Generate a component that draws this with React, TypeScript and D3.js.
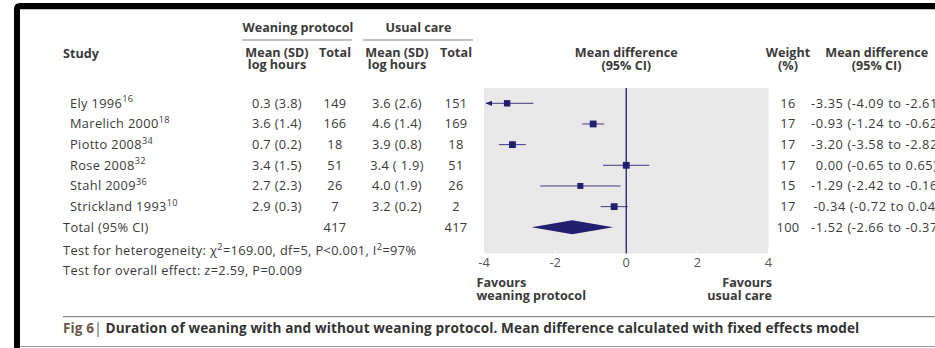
import React from "react";
import * as d3 from "d3";

const studies = ["Ely 1996", "Marelich 2000", "Piotto 2008", "Rose 2008", "Stahl 2009", "Strickland 1993"];
const refs = ["16", "18", "34", "32", "36", "10"];
const wpMeanSD = ["0.3 (3.8)", "3.6 (1.4)", "0.7 (0.2)", "3.4 (1.5)", "2.7 (2.3)", "2.9 (0.3)"];
const wpTotal = [149, 166, 18, 51, 26, 7];
const ucMeanSD = ["3.6 (2.6)", "4.6 (1.4)", "3.9 (0.8)", "3.4 ( 1.9)", "4.0 (1.9)", "3.2 (0.2)"];
const ucTotal = [151, 169, 18, 51, 26, 2];
const weights = [16, 17, 17, 17, 15, 17];
const md = [-3.35, -0.93, -3.2, 0.0, -1.29, -0.34];
const lo = [-4.09, -1.24, -3.58, -0.65, -2.42, -0.72];
const hi = [-2.61, -0.62, -2.82, 0.65, -0.16, 0.04];
const totalLabel = "Total (95% CI)";
const totalWp = 417;
const totalUc = 417;
const totalWeight = 100;
const totalMd = -1.52;
const totalLo = -2.66;
const totalHi = -0.37;
const xTicks = [-4, -2, 0, 2, 4];

const NAVY = "#221f6f";
const TXT = "#3a3a3a";
const FONT = "'Open Sans', sans-serif";

const fmt = (v: number) => v.toFixed(2);

export default function App() {
  const x = d3.scaleLinear().domain([-4, 4]).range([484, 768.5]);
  const rowKeys = [...studies, "Total"];
  const y = d3.scalePoint<string>().domain(rowKeys).range([103.3, 227.3]);
  const sq = d3.scaleLinear().domain([0, 17]).range([0, 6.8]);
  const base = 4.5;
  const fs = 12.8;
  const hfs = 12.6;
  const sup = 9.2;
  const ls = 0.35;

  return (
    <svg width={935} height={348} style={{ position: "absolute", left: 0, top: 0, background: "#fff" }} fontFamily={FONT}>
      {/* frame */}
      <path d="M17 348 V9 Q17 6 20 6 H935" fill="none" stroke="#000" strokeWidth={6} />
      <line x1={20} x2={935} y1={9.6} y2={9.6} stroke="#bbb" strokeWidth={1} />
      <line x1={20} x2={935} y1={346.5} y2={346.5} stroke="#999" strokeWidth={1.2} />

      {/* headers */}
      <g fill={TXT} fontWeight="bold" fontSize={hfs}>
        <text x={63} y={58}>Study</text>
        <text x={298} y={31.5} textAnchor="middle">Weaning protocol</text>
        <text x={418.5} y={31.5} textAnchor="middle">Usual care</text>
        <text x={277} y={56.5} textAnchor="middle">Mean (SD)</text>
        <text x={277} y={69} textAnchor="middle">log hours</text>
        <text x={335} y={56.5} textAnchor="middle">Total</text>
        <text x={397} y={56.5} textAnchor="middle">Mean (SD)</text>
        <text x={397} y={69} textAnchor="middle">log hours</text>
        <text x={456} y={56.5} textAnchor="middle">Total</text>
        <text x={x(0)} y={57} textAnchor="middle">Mean difference</text>
        <text x={x(0)} y={69.5} textAnchor="middle">(95% CI)</text>
        <text x={788} y={57} textAnchor="middle">Weight</text>
        <text x={788} y={69.5} textAnchor="middle">(%)</text>
        <text x={876.7} y={57} textAnchor="middle">Mean difference</text>
        <text x={876.7} y={69.5} textAnchor="middle">(95% CI)</text>
      </g>
      <line x1={242} x2={352} y1={40} y2={40} stroke="#888" strokeWidth={1.2} />
      <line x1={363} x2={473} y1={40} y2={40} stroke="#888" strokeWidth={1.2} />

      {/* plot background */}
      <rect x={x(-4)} y={88} width={x(4) - x(-4)} height={165.5} fill="#e8e8e8" />
      {xTicks.map((t) => (
        <line key={t} x1={x(t)} x2={x(t)} y1={250} y2={253.5} stroke="#fff" strokeWidth={1} />
      ))}
      <line x1={x(0)} x2={x(0)} y1={88} y2={253.5} stroke={NAVY} strokeWidth={1.3} />
      {xTicks.map((t) => (
        <text key={t} x={x(t)} y={266.5} textAnchor="middle" fontSize={fs} fill="#555">{t}</text>
      ))}

      {/* study rows */}
      <g letterSpacing={ls}>
        {studies.map((s, i) => {
          const yc = y(s)!;
          const l = Math.max(lo[i], -4);
          const arrow = lo[i] < -4;
          const size = sq(weights[i]);
          return (
            <g key={s}>
              <text x={70} y={yc + base} fontSize={fs} fill={TXT}>
                {s}
                <tspan dy={-5.5} fontSize={sup}>{refs[i]}</tspan>
              </text>
              <text x={277} y={yc + base} fontSize={fs} fill={TXT} textAnchor="middle">{wpMeanSD[i]}</text>
              <text x={335} y={yc + base} fontSize={fs} fill={TXT} textAnchor="middle">{wpTotal[i]}</text>
              <text x={397} y={yc + base} fontSize={fs} fill={TXT} textAnchor="middle">{ucMeanSD[i]}</text>
              <text x={456} y={yc + base} fontSize={fs} fill={TXT} textAnchor="middle">{ucTotal[i]}</text>
              <line x1={x(l) + (arrow ? 2 : 0)} x2={x(hi[i])} y1={yc} y2={yc} stroke={NAVY} strokeWidth={1} opacity={0.85} />
              {arrow && (
                <path d={`M${x(-4) + 1.5},${yc} L${x(-4) + 8},${yc - 2.6} L${x(-4) + 8},${yc + 2.6} Z`} fill={NAVY} />
              )}
              <rect x={x(md[i]) - size / 2} y={yc - size / 2} width={size} height={size} fill={NAVY} />
              <text x={788} y={yc + base} fontSize={fs} fill={TXT} textAnchor="middle">{weights[i]}</text>
              <text x={876.7} y={yc + base} fontSize={fs} fill={TXT} textAnchor="middle" letterSpacing={0.6}>
                {`${fmt(md[i])} (${fmt(lo[i])} to ${fmt(hi[i])})`}
              </text>
            </g>
          );
        })}
      </g>

      {/* total row */}
      {(() => {
        const yc = y("Total")!;
        return (
          <g letterSpacing={ls}>
            <text x={63} y={yc + base} fontSize={fs} fill={TXT}>{totalLabel}</text>
            <text x={335} y={yc + base} fontSize={fs} fill={TXT} textAnchor="middle">{totalWp}</text>
            <text x={456} y={yc + base} fontSize={fs} fill={TXT} textAnchor="middle">{totalUc}</text>
            <path
              d={`M${x(totalLo)},${yc} L${x(totalMd)},${yc - 7} L${x(totalHi)},${yc} L${x(totalMd)},${yc + 7} Z`}
              fill={NAVY}
            />
            <text x={788} y={yc + base} fontSize={fs} fill={TXT} textAnchor="middle">{totalWeight}</text>
            <text x={876.7} y={yc + base} fontSize={fs} fill={TXT} textAnchor="middle" letterSpacing={0.6}>
              {`${fmt(totalMd)} (${fmt(totalLo)} to ${fmt(totalHi)})`}
            </text>
          </g>
        );
      })()}

      {/* tests */}
      <g letterSpacing={ls}>
        <text x={63} y={255} fontSize={fs} fill={TXT}>
          Test for heterogeneity: χ<tspan dy={-5.5} fontSize={sup}>2</tspan>
          <tspan dy={5.5}>=169.00, df=5, P&lt;0.001, I</tspan>
          <tspan dy={-5.5} fontSize={sup}>2</tspan>
          <tspan dy={5.5}>=97%</tspan>
        </text>
        <text x={63} y={275} fontSize={fs} fill={TXT}>Test for overall effect: z=2.59, P=0.009</text>
      </g>

      {/* favours */}
      <g fontSize={hfs} fontWeight="bold" fill={TXT}>
        <text x={476.5} y={286.5}>Favours</text>
        <text x={476.5} y={299.5}>weaning protocol</text>
        <text x={772} y={286.5} textAnchor="end">Favours</text>
        <text x={772} y={299.5} textAnchor="end">usual care</text>
      </g>

      {/* caption */}
      <line x1={63} x2={935} y1={316.7} y2={316.7} stroke="#888" strokeWidth={1.2} />
      <text x={63} y={333} fontSize={13.6} fontWeight="bold" fill="#333" letterSpacing={0.12}>
        <tspan fill="#6a5848">Fig 6</tspan>
        <tspan fontWeight="normal" fill="#555">|</tspan>
        <tspan> Duration of weaning with and without weaning protocol. Mean difference calculated with fixed effects model</tspan>
      </text>
    </svg>
  );
}
